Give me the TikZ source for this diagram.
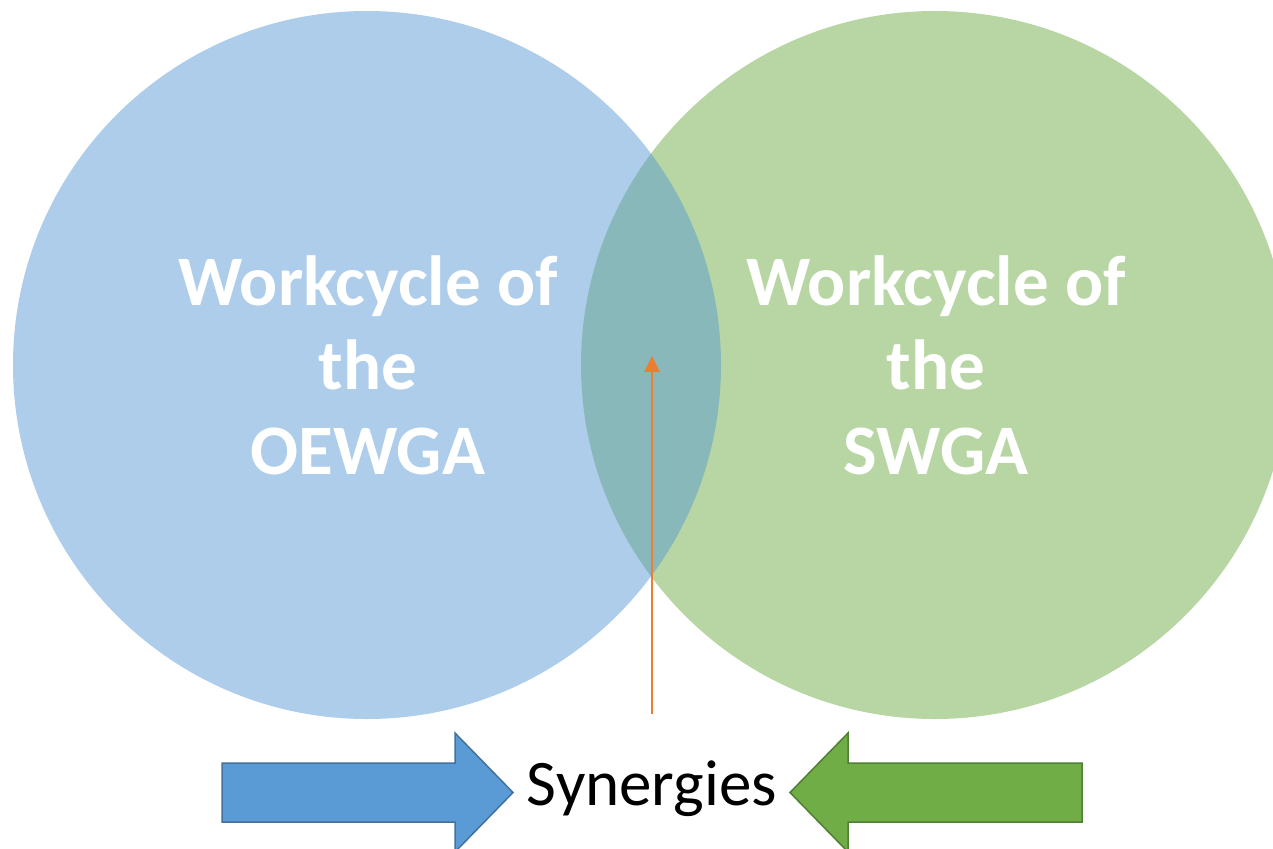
\documentclass[tikz,border=0pt]{standalone}
\usepackage{fontspec}
\setmainfont{Carlito}
\usetikzlibrary{arrows.meta}
\definecolor{oblue}{HTML}{5B9BD5}
\definecolor{ogreen}{HTML}{70AD47}
\definecolor{oblueline}{HTML}{41719C}
\definecolor{ogreenline}{HTML}{507E32}
\definecolor{oorange}{HTML}{ED7D31}
\tikzset{
  circtext/.style={text=white, font=\fontsize{71}{84.5}\selectfont\bfseries, align=center},
  blockarrow/.style={line width=1.5pt, line join=miter},
}
\begin{document}
\begin{tikzpicture}[x=1pt,y=-1pt]
\useasboundingbox (0,0) rectangle (1273,848);
\clip (0,0) rectangle (1273,848);
\fill[ogreen, opacity=0.5] (935,365) circle[radius=354];
\fill[oblue, opacity=0.5] (367,365) circle[radius=354];
\node[circtext] (oewga) at (368,365) {Workcycle of\\the\\OEWGA};
\node[circtext] (swga) at (936,365) {Workcycle of\\the\\SWGA};
\coordinate (ostart) at (652,714);
\coordinate (oend) at (652,356);
\draw[oorange, line width=2.5pt, -{Triangle[width=15pt,length=16pt]}] (ostart) -- (oend);
\node[anchor=base, font=\fontsize{65}{78}\selectfont] (syn) at (652,805) {Synergies};
\filldraw[blockarrow, fill=oblue, draw=oblueline] (222,763) -- (455,763) -- (455,733) -- (513,792.5) -- (455,852) -- (455,822) -- (222,822) -- cycle;
\filldraw[blockarrow, fill=ogreen, draw=ogreenline] (1082,763) -- (848,763) -- (848,733) -- (790,792.5) -- (848,852) -- (848,822) -- (1082,822) -- cycle;
\end{tikzpicture}
\end{document}
